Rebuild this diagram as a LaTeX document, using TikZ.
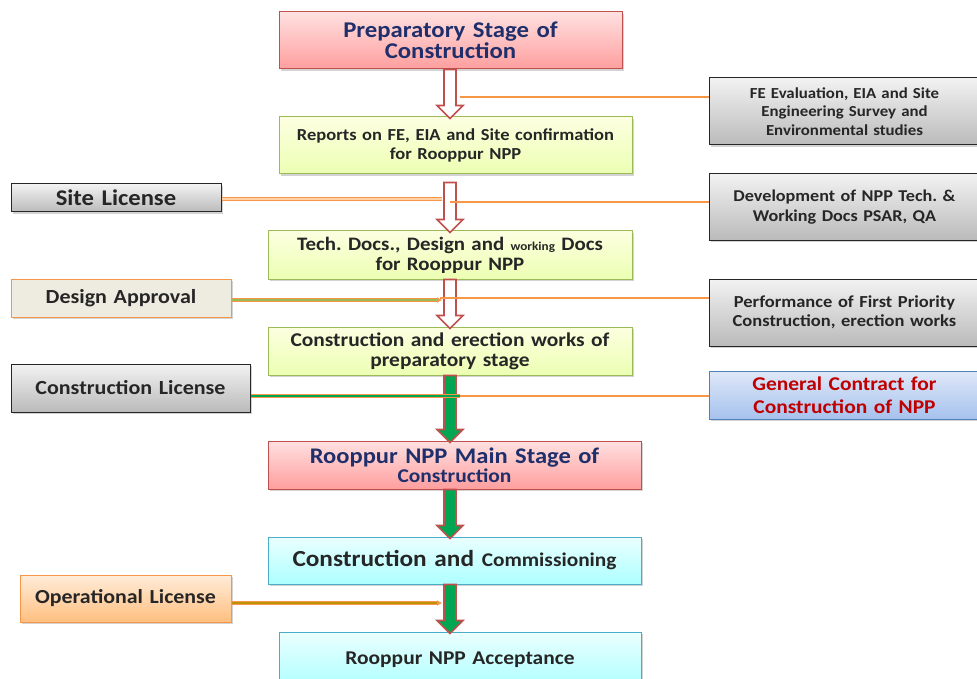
\documentclass[tikz,border=0pt]{standalone}
\usepackage{fontspec}
\setmainfont[FakeStretch=1.1]{Carlito}
\usetikzlibrary{arrows.meta, positioning, calc, shadows}
\definecolor{stagered}{HTML}{C0504D}
\definecolor{stagenavy}{HTML}{1F2F6B}
\definecolor{linkorange}{HTML}{F79646}
\definecolor{docgreen}{HTML}{9BBB59}
\definecolor{flowgreen}{HTML}{00A651}
\definecolor{greyedge}{HTML}{262626}
\definecolor{cyanedge}{HTML}{4BACC6}
\definecolor{blueedge}{HTML}{4F81BD}
\definecolor{bluetop}{HTML}{DFE8F8}
\definecolor{bluebottom}{HTML}{A6C2EE}
\definecolor{contractred}{HTML}{C00000}
\definecolor{beigefill}{HTML}{EEEBE0}
\frenchspacing
\tikzset{
  box/.style={inner sep=2pt, align=center, font=\bfseries, text=black!85,
    line width=1pt, drop shadow={opacity=0.35, shadow xshift=2pt, shadow yshift=-2pt}},
  stagebox/.style={box, draw=stagered, top color=red!12, bottom color=red!38!white, text=stagenavy},
  docbox/.style={box, draw=docgreen, top color=green!8!yellow!12, bottom color=green!25!yellow!30},
  greybox/.style={box, draw=greyedge, top color=black!5, bottom color=black!27},
  cyanbox/.style={box, draw=cyanedge, top color=cyan!8, bottom color=cyan!32},
  bluebox/.style={box, draw=blueedge, top color=bluetop, bottom color=bluebottom, text=contractred},
  orangebox/.style={box, draw=linkorange, top color=orange!15, bottom color=orange!50},
  hollowarrow/.style={draw=stagered, line width=1.6pt, fill=white},
  greenarrow/.style={draw=stagered, line width=1.6pt, fill=flowgreen},
  feedline/.style={draw=linkorange, line width=1.2pt},
  licenceline/.style={draw=linkorange, line width=0.8pt, double distance=1.6pt}
}
% block arrow down the main column: style, from, to, gap
\newcommand{\blockarrow}[4]{%
  \path (ax |- #2.south) ++(0,#4) coordinate (t) (ax |- #3.north) ++(0,2) coordinate (b);
  \draw[#1] ($(t)+(-6,0)$) -- ($(b)+(-6,-13)$) -- ($(b)+(-13,-13)$) -- (b)
    -- ($(b)+(13,-13)$) -- ($(b)+(6,-13)$) -- ($(t)+(6,0)$) -- cycle;
}
\begin{document}
\begin{tikzpicture}[x=1pt, y=-1pt]
  \useasboundingbox (0,0) rectangle (977,679);
  \coordinate (ax) at (450,0);

  % main column
  \node[stagebox, minimum width=343, minimum height=57, text width=335,
        font=\bfseries\fontsize{22.5}{18.5}\selectfont] (prep) at (450.5,40.5)
    {Preparatory Stage of\\Construction};
  \node[docbox, minimum width=353, minimum height=57, text width=345,
        font=\bfseries\fontsize{16.8}{19}\selectfont] (reports) at (455.5,145.5)
    {Reports on FE, EIA and Site confirmation\\for Rooppur NPP};
  \node[docbox, minimum width=364, minimum height=48, text width=356,
        font=\bfseries\fontsize{19}{20}\selectfont] (techdocs) at (450,255)
    {Tech. Docs., Design and {\fontsize{12}{12}\selectfont working} Docs\\for Rooppur NPP};
  \node[docbox, minimum width=364, minimum height=48, text width=356,
        font=\bfseries\fontsize{19.5}{20}\selectfont] (erection) at (450,351)
    {Construction and erection works of\\preparatory stage};
  \node[stagebox, minimum width=373, minimum height=48, text width=365,
        font=\bfseries\fontsize{22.3}{19}\selectfont] (mainstage) at (454.5,465)
    {Rooppur NPP Main Stage of\\{\fontsize{19.5}{19}\selectfont Construction}};
  \node[cyanbox, minimum width=373, minimum height=47, text width=365,
        font=\bfseries\fontsize{23}{24}\selectfont] (commission) at (454.5,560.5)
    {Construction and {\fontsize{19.4}{20}\selectfont Commissioning}};
  \node[cyanbox, minimum width=362, minimum height=56, text width=354,
        font=\bfseries\fontsize{19.5}{20}\selectfont] (accept) at (460,660)
    {Rooppur NPP Acceptance\\[10pt]};

  % inputs on the right
  \node[greybox, minimum width=271, minimum height=67, text width=262,
        font=\bfseries\fontsize{15.3}{18.5}\selectfont] (feeval) at (844.5,111.5)
    {FE Evaluation, EIA and Site\\Engineering Survey and\\Environmental studies};
  \node[greybox, minimum width=271, minimum height=66, text width=262,
        font=\bfseries\fontsize{16.5}{20}\selectfont] (develop) at (844.5,207)
    {Development of NPP Tech. \&\\Working Docs PSAR, QA};
  \node[greybox, minimum width=271, minimum height=67, text width=262,
        font=\bfseries\fontsize{16.8}{19}\selectfont] (perform) at (844.5,312.5)
    {Performance of First Priority\\Construction, erection works};
  \node[bluebox, minimum width=271, minimum height=48, text width=262,
        font=\bfseries\fontsize{19.5}{23}\selectfont] (contract) at (844.5,395)
    {General Contract for\\Construction of NPP};

  % licences on the left
  \node[greybox, minimum width=210, minimum height=28, text width=204,
        font=\bfseries\fontsize{22.4}{22}\selectfont] (sitelic) at (116,198) {Site License};
  \node[box, draw=linkorange, fill=beigefill, minimum width=220, minimum height=38, text width=212,
        font=\bfseries\fontsize{20}{20}\selectfont] (designok) at (121,298) {Design Approval};
  \node[greybox, minimum width=239, minimum height=48, text width=233,
        font=\bfseries\fontsize{20}{20}\selectfont] (constlic) at (130.5,388) {Construction License};
  \node[orangebox, minimum width=211, minimum height=47, text width=205,
        font=\bfseries\fontsize{19.9}{20}\selectfont] (oplic) at (125.5,598.5) {Operational License};

  % block arrows
  \blockarrow{hollowarrow}{prep}{reports}{0}
  \blockarrow{hollowarrow}{reports}{techdocs}{8}
  \blockarrow{hollowarrow}{techdocs}{erection}{0}
  \blockarrow{greenarrow}{erection}{mainstage}{0}
  \blockarrow{greenarrow}{mainstage}{commission}{0}
  \blockarrow{greenarrow}{commission}{accept}{0}

  % feeds from the right
  \coordinate (fe-end) at (460,97);
  \coordinate (dev-end) at (450,202);
  \coordinate (perf-end) at (440,298);
  \coordinate (gc-end) at (460,396);
  \draw[feedline] (fe-end) -- (fe-end -| feeval.west);
  \draw[feedline] (dev-end) -- (dev-end -| develop.west);
  \draw[feedline] (perf-end) -- (perf-end -| perform.west);
  \draw[feedline] (gc-end) -- (gc-end -| contract.west);

  % licence links from the left
  \coordinate (sl-end) at (442,199);
  \coordinate (da-end) at (442,300);
  \coordinate (cl-end) at (460,396);
  \coordinate (ol-end) at (442,603);
  \draw[licenceline, double=orange!35] (sl-end -| sitelic.east) -- (sl-end);
  \draw[licenceline, double=docgreen, -{Latex[length=5pt, width=6pt]}] (da-end -| designok.east) -- (da-end);
  \draw[licenceline, double=flowgreen] (cl-end -| constlic.east) -- (cl-end);
  \draw[licenceline, double=olive!55!orange, -{Latex[length=5pt, width=6pt]}] (ol-end -| oplic.east) -- (ol-end);
\end{tikzpicture}
\end{document}
